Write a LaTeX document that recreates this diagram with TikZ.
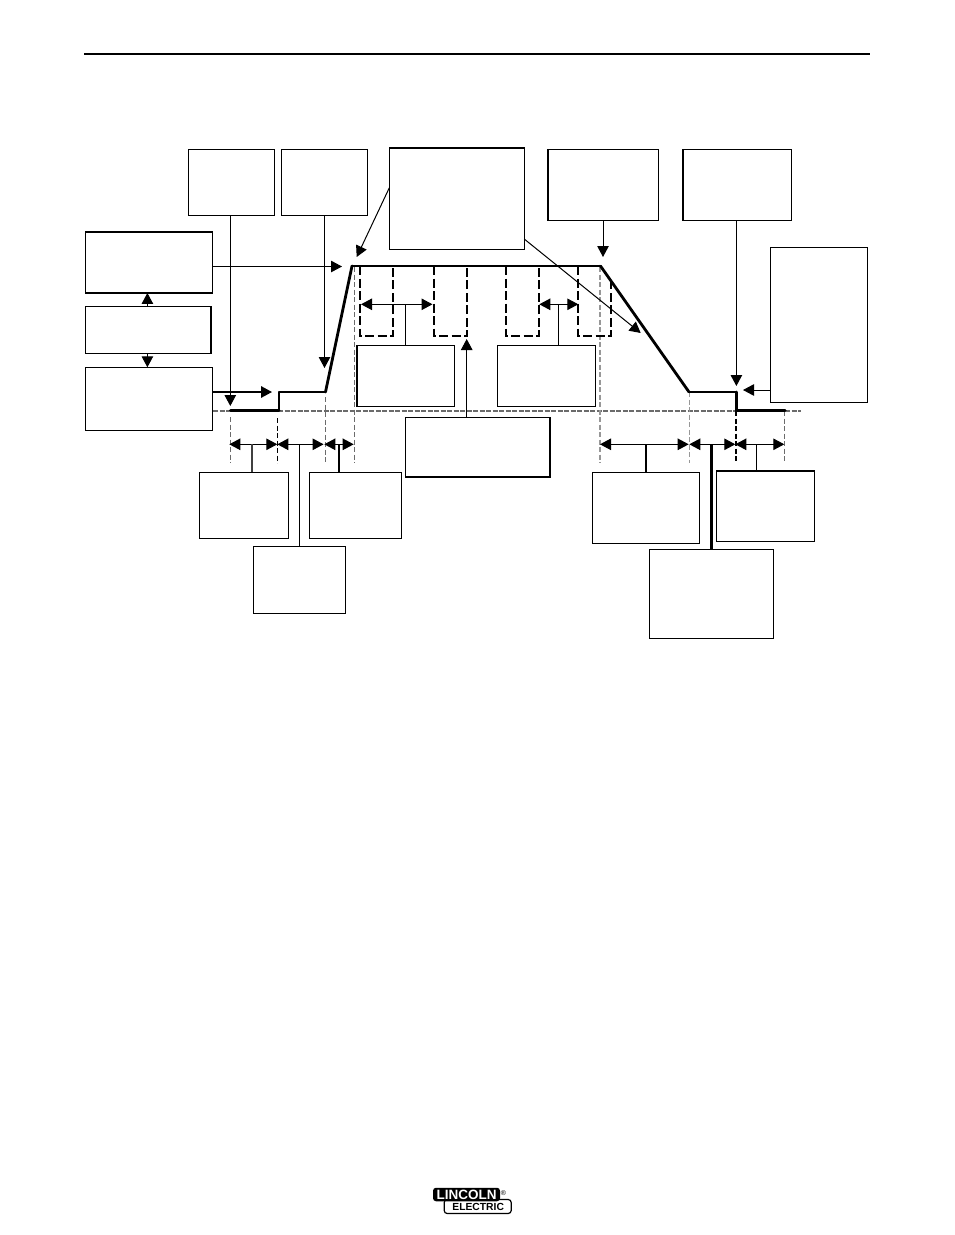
\documentclass[tikz,border=0pt]{standalone}
\usepackage{fontspec}
\setmainfont{Liberation Sans}
\usepackage{tikz}
\usetikzlibrary{arrows.meta,positioning,calc}
\definecolor{guide}{gray}{0.42}
\begin{document}
\begin{tikzpicture}[x=1pt,y=-1pt,
  b/.style={draw,line width=1pt,inner sep=0pt,outer sep=0pt},
  s/.style 2 args={minimum width=#1pt,minimum height=#2pt},
  ar/.style={line width=1pt,-{Triangle[length=11pt,width=11.5pt]}},
  dim/.style={line width=1pt,{Triangle[length=11pt,width=11.5pt]}-{Triangle[length=11pt,width=11.5pt]}},
  pulse/.style={line width=1.5pt,dash pattern=on 9pt off 3.5pt},
  pr/.style={line join=round,line cap=round}]
\useasboundingbox (0,0) rectangle (954,1235);
\draw[line width=2.5pt] (84,54) -- (870,54);
% boxes
\node[b,s={86}{66}] (ta) at (231.3,182.3) {};
\node[b,s={86.4}{66}] (tb) at (324.5,182.3) {};
\node[b,s={135}{101.6}] (big) at (456.8,198.5) {};
\node[b,s={110.6}{71}] (tc) at (603,184.8) {};
\node[b,s={109}{71}] (td) at (737.2,184.8) {};
\node[b,s={97}{155}] (re) at (818.8,324.8) {};
\node[b,s={127.4}{61.3}] (la) at (149,262.3) {};
\node[b,s={126}{47}] (lb) at (148.3,329.8) {};
\node[b,s={127.4}{63}] (lc) at (149,398.8) {};
\node[b,s={97.6}{61.4}] (pa) at (405.5,376) {};
\node[b,s={98}{61.4}] (pb) at (546.3,376) {};
\node[b,s={145.3}{59.7}] (ce) at (477.7,447.2) {};
\node[b,s={89.4}{66}] (da) at (244,505.3) {};
\node[b,s={92}{67}] (db) at (299.3,579.8) {};
\node[b,s={92}{66}] (dc) at (355.3,505.3) {};
\node[b,s={107}{71.4}] (dd) at (645.8,508) {};
\node[b,s={124.4}{89}] (de) at (711.5,593.8) {};
\node[b,s={98}{70.6}] (df) at (765.3,506) {};
% heavier edges
\foreach \u/\v in {big.north west/big.north east,la.north west/la.north east,la.south west/la.south east,lb.north east/lb.south east,pa.north west/pa.south west,ce.north east/ce.south east,ce.south west/ce.south east,tc.north west/tc.south west,td.north west/td.south west,df.north west/df.north east}
  \draw[line width=2pt] (\u) -- (\v);
% baseline and guides
\draw[guide,line width=1.2pt,dash pattern=on 5pt off 1.5pt] (213,411) -- (801,411);
\foreach \x/\a/\c/\w in {230/417/guide/1,277/418/black/1,325/397/guide/1,354/267/guide/1,600/267/guide!70/1.5,689.5/392/guide!70/1.2,736/411/black/1.2,784.5/411/guide/1}
  \draw[\c,line width=\w pt,dash pattern=on 5pt off 2.5pt] (\x,\a) -- (\x,463);
% pulses
\foreach \x/\z/\t in {360/393/266,434/467/266,506/539/266,578/611/282}
  \draw[pulse] (\x,266) -- (\x,336) -- (\z,336) -- (\z,\t);
% weld curve
\coordinate (p1) at (230.5,410.5);
\coordinate (p2) at (279,410.5);
\coordinate (p3) at (279,392);
\coordinate (p4) at (325.5,392);
\coordinate (p5) at (352,266);
\coordinate (p6) at (600.5,266);
\coordinate (p7) at (689,392);
\coordinate (p8) at (736.5,392);
\coordinate (p9) at (736.5,410.5);
\coordinate (p10) at (785,410.5);
\foreach \u/\v/\w in {p1/p2/3,p2/p3/2,p3/p4/1.8,p4/p5/2.8,p5/p6/2.6,p6/p7/2.8,p7/p8/1.8,p8/p9/2.6,p9/p10/3}
  \draw[pr,line width=\w pt] (\u) -- (\v);
% arrows onto the curve
\coordinate (e1) at (342,266.5);
\coordinate (e2) at (272,392);
\coordinate (e3) at (743,390);
\coordinate (e4) at (466.7,339);
\coordinate (e5) at (147.4,300);
\draw[ar] (ta.south) ++(-1,0) -- (230.3,406);
\draw[ar] (tb.south) -- (324.5,368);
\draw[ar] (big.171) -- (356.7,257);
\draw[ar] (big.-31) -- (640.7,333);
\draw[ar] (tc.south) -- (603,257);
\draw[ar] (td.south) ++(-0.8,0) -- (736.4,386);
\draw[ar] (la.east |- e1) -- (e1);
\draw[ar,line width=1.6pt] (lc.east |- e2) -- (e2);
\draw[ar] (re.west |- e3) -- (e3);
\draw[ar] (ce.north -| e4) -- (e4);
\draw[ar] (e5 |- lb.north) -- (e5 |- la.south);
\draw[ar] (e5 |- lb.south) -- (e5 |- lc.north);
% spans
\foreach \y/\u/\v in {304.3/361/432.5,304.3/539.3/578.3,444.3/229.3/277.3,444.3/277.3/323.6,444.3/324.3/353.7,444.3/600/688.7,444.3/689.3/735.3,444.3/735.3/784.3}
  \draw[dim] (\u,\y) -- (\v,\y);
% stems
\coordinate (s1) at (558.3,304.3);
\coordinate (s2) at (252,444.3);
\coordinate (s3) at (339,444.3);
\coordinate (s4) at (756.3,444.3);
\draw[line width=1pt] (pa.north) -- (pa.north |- s1);
\draw[line width=1pt] (pb.north -| s1) -- (s1);
\draw[line width=1.3pt,black!75] (da.north -| s2) -- (s2);
\draw[line width=1pt] (db.north) -- (db.north |- s2);
\draw[line width=2pt] (dc.north -| s3) -- (s3);
\draw[line width=2pt] (dd.north) -- (dd.north |- s2);
\draw[line width=2.4pt] (de.north) -- (de.north |- s2);
\draw[line width=1pt] (df.north -| s4) -- (s4);
% logo
\node[draw,line width=1.2pt,rounded corners=3pt,s={67}{14},inner sep=0pt,font=\bfseries\fontsize{10.3}{10}\selectfont,text depth=0pt] (el) at (477.7,1206.5) {\hspace*{1pt}ELECTRIC};
\node[fill=black,rounded corners=3pt,s={67}{13.5},inner sep=0pt,text=white,font=\bfseries\fontsize{13.5}{14}\selectfont] (li) at (466.5,1194.5) {LINCOLN};
\node[inner sep=0pt,font=\fontsize{7}{7}\selectfont] (rg) at (503.5,1193.5) {®};
\end{tikzpicture}
\end{document}
